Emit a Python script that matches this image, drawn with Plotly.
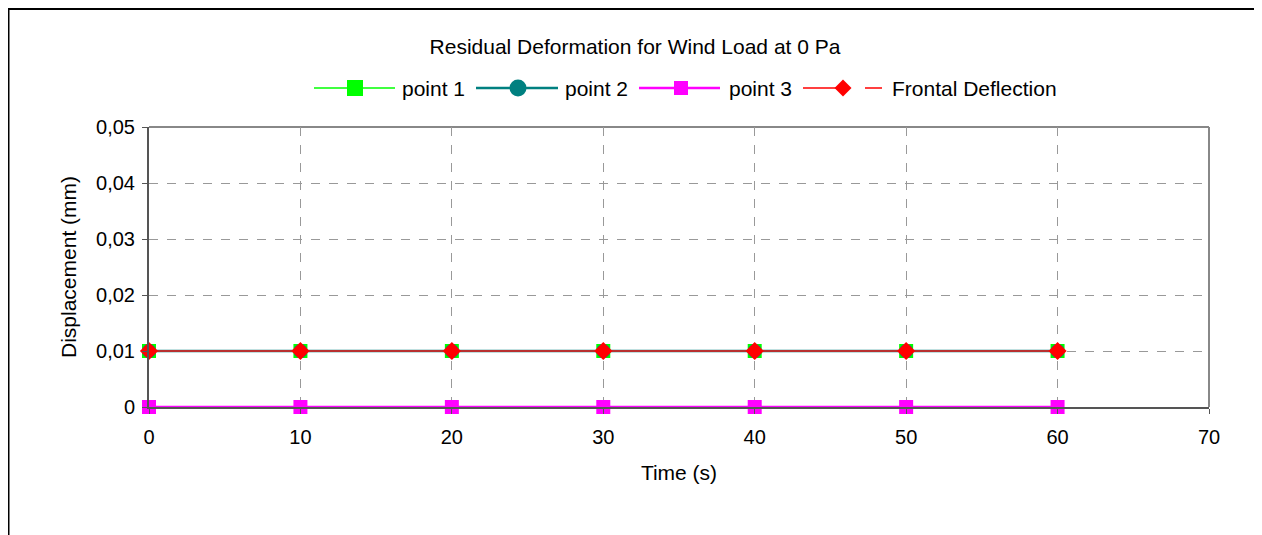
import plotly.graph_objects as go

time_s = [0, 10, 20, 30, 40, 50, 60]
point1 = [0.01, 0.01, 0.01, 0.01, 0.01, 0.01, 0.01]
point2 = [0.01, 0.01, 0.01, 0.01, 0.01, 0.01, 0.01]
point3 = [0, 0, 0, 0, 0, 0, 0]
frontal = [0.01, 0.01, 0.01, 0.01, 0.01, 0.01, 0.01]

series_names = ["point 1", "point 2", "point 3", "Frontal Deflection"]
y_tickvals = [0, 0.01, 0.02, 0.03, 0.04, 0.05]
y_ticktext = ["0", "0,01", "0,02", "0,03", "0,04", "0,05"]
x_tickvals = [0, 10, 20, 30, 40, 50, 60, 70]

FONT = "Liberation Sans, Arial, sans-serif"
W, H = 1254, 527
L, R, T, B = 141, 53, 119, 128
PW, PH = W - L - R, H - T - B
OFF = 8  # page body margin


def px(xp):
    return (xp - OFF - L) / PW


def py(yp):
    return (T + PH - (yp - OFF)) / PH


styles = [
    dict(color="#00FF00", width=1.5, symbol="square", size=14, mcolor="#00FF00"),
    dict(color="#008080", width=2.5, symbol="circle", size=14, mcolor="#008080"),
    dict(color="#FF00FF", width=2.5, symbol="square", size=14, mcolor="#FF00FF"),
    dict(color="#B83030", width=2, symbol="diamond", size=14, mcolor="#FF0000"),
]

fig = go.Figure()
for name, ys, st in zip(series_names, [point1, point2, point3, frontal], styles):
    fig.add_trace(go.Scatter(x=time_s, y=ys, name=name, mode="lines+markers",
                             line=dict(color=st["color"], width=st["width"]), cliponaxis=False,
                             marker=dict(symbol=st["symbol"], size=st["size"], color=st["mcolor"]),
                             showlegend=False))

fig.update_layout(
    width=W, height=H,
    margin=dict(l=L, r=R, t=T, b=B),
    paper_bgcolor="white", plot_bgcolor="white",
    font=dict(family=FONT, size=20, color="black"),
    title=dict(text="Residual Deformation for Wind Load at 0 Pa", x=(635 - OFF) / W, xanchor="center",
               y=1 - (47 - OFF) / H, yanchor="middle", font=dict(family=FONT, size=21, color="black")),
    showlegend=False,
    xaxis=dict(range=[0, 70], tickvals=x_tickvals, showgrid=True, gridcolor="#999999",
               griddash="dash", gridwidth=1, zeroline=False, showline=True, linecolor="#555555",
               linewidth=2, ticks="outside", ticklen=5, tickcolor="#555555", ticklabelstandoff=6,
               title=dict(text="Time (s)", font=dict(family=FONT, size=21), standoff=18),
               tickfont=dict(family=FONT, size=20)),
    yaxis=dict(range=[0, 0.05], tickvals=y_tickvals, ticktext=y_ticktext, showgrid=True,
               gridcolor="#999999", griddash="dash", gridwidth=1, zeroline=False,
               showline=True, linecolor="#555555", linewidth=2, ticks="outside", ticklen=5,
               tickcolor="#555555", ticklabelstandoff=3,
               title=dict(text="Displacement (mm)", font=dict(family=FONT, size=21), standoff=14),
               tickfont=dict(family=FONT, size=20)),
)

# plot area frame (top/right in gray)
fig.add_shape(type="line", xref="paper", yref="paper", x0=0, x1=1, y0=1, y1=1,
              line=dict(color="#888888", width=2), layer="below")
fig.add_shape(type="line", xref="paper", yref="paper", x0=1, x1=1, y0=0, y1=1,
              line=dict(color="#888888", width=2), layer="below")
# outer chart border
fig.add_shape(type="rect", xref="paper", yref="paper",
              x0=px(8.5), x1=px(1256), y0=py(560), y1=py(9),
              line=dict(color="black", width=2), fillcolor="rgba(0,0,0,0)", layer="below")

# custom legend (Excel-style wide symbols)
LY = 88
leg_line = [(314, 395), (476, 558), (639, 720), (803, 850)]
leg_mark = [355, 518, 681, 843]
leg_text = [400, 563, 727, 890]
leg_half = [8, 8.5, 7, 8.5]
for name, st, (a, b), mx, tx, hs in zip(series_names, styles, leg_line, leg_mark, leg_text, leg_half):
    fig.add_shape(type="line", xref="paper", yref="paper", x0=px(a), x1=px(b), y0=py(LY), y1=py(LY),
                  line=dict(color="#FF0000" if st["symbol"] == "diamond" else st["color"],
                            width=st["width"] if st["symbol"] != "diamond" else 1.5))
    if st["symbol"] == "square":
        fig.add_shape(type="rect", xref="paper", yref="paper", x0=px(mx - hs), x1=px(mx + hs),
                      y0=py(LY + hs), y1=py(LY - hs), line=dict(width=0), fillcolor=st["mcolor"])
    elif st["symbol"] == "circle":
        fig.add_shape(type="circle", xref="paper", yref="paper", x0=px(mx - hs), x1=px(mx + hs),
                      y0=py(LY + hs), y1=py(LY - hs), line=dict(width=0), fillcolor=st["mcolor"])
    else:
        path = (f"M {px(mx - hs)} {py(LY)} L {px(mx)} {py(LY - hs)} "
                f"L {px(mx + hs)} {py(LY)} L {px(mx)} {py(LY + hs)} Z")
        fig.add_shape(type="path", xref="paper", yref="paper", path=path,
                      line=dict(width=0), fillcolor=st["mcolor"])
        fig.add_shape(type="line", xref="paper", yref="paper", x0=px(865), x1=px(882),
                      y0=py(LY), y1=py(LY), line=dict(color="#FF0000", width=1.5))
    fig.add_annotation(text=name, xref="paper", yref="paper", x=px(tx), y=py(LY),
                       xanchor="left", yanchor="middle", showarrow=False,
                       font=dict(family=FONT, size=21, color="black"))

fig.write_html("out.html")
